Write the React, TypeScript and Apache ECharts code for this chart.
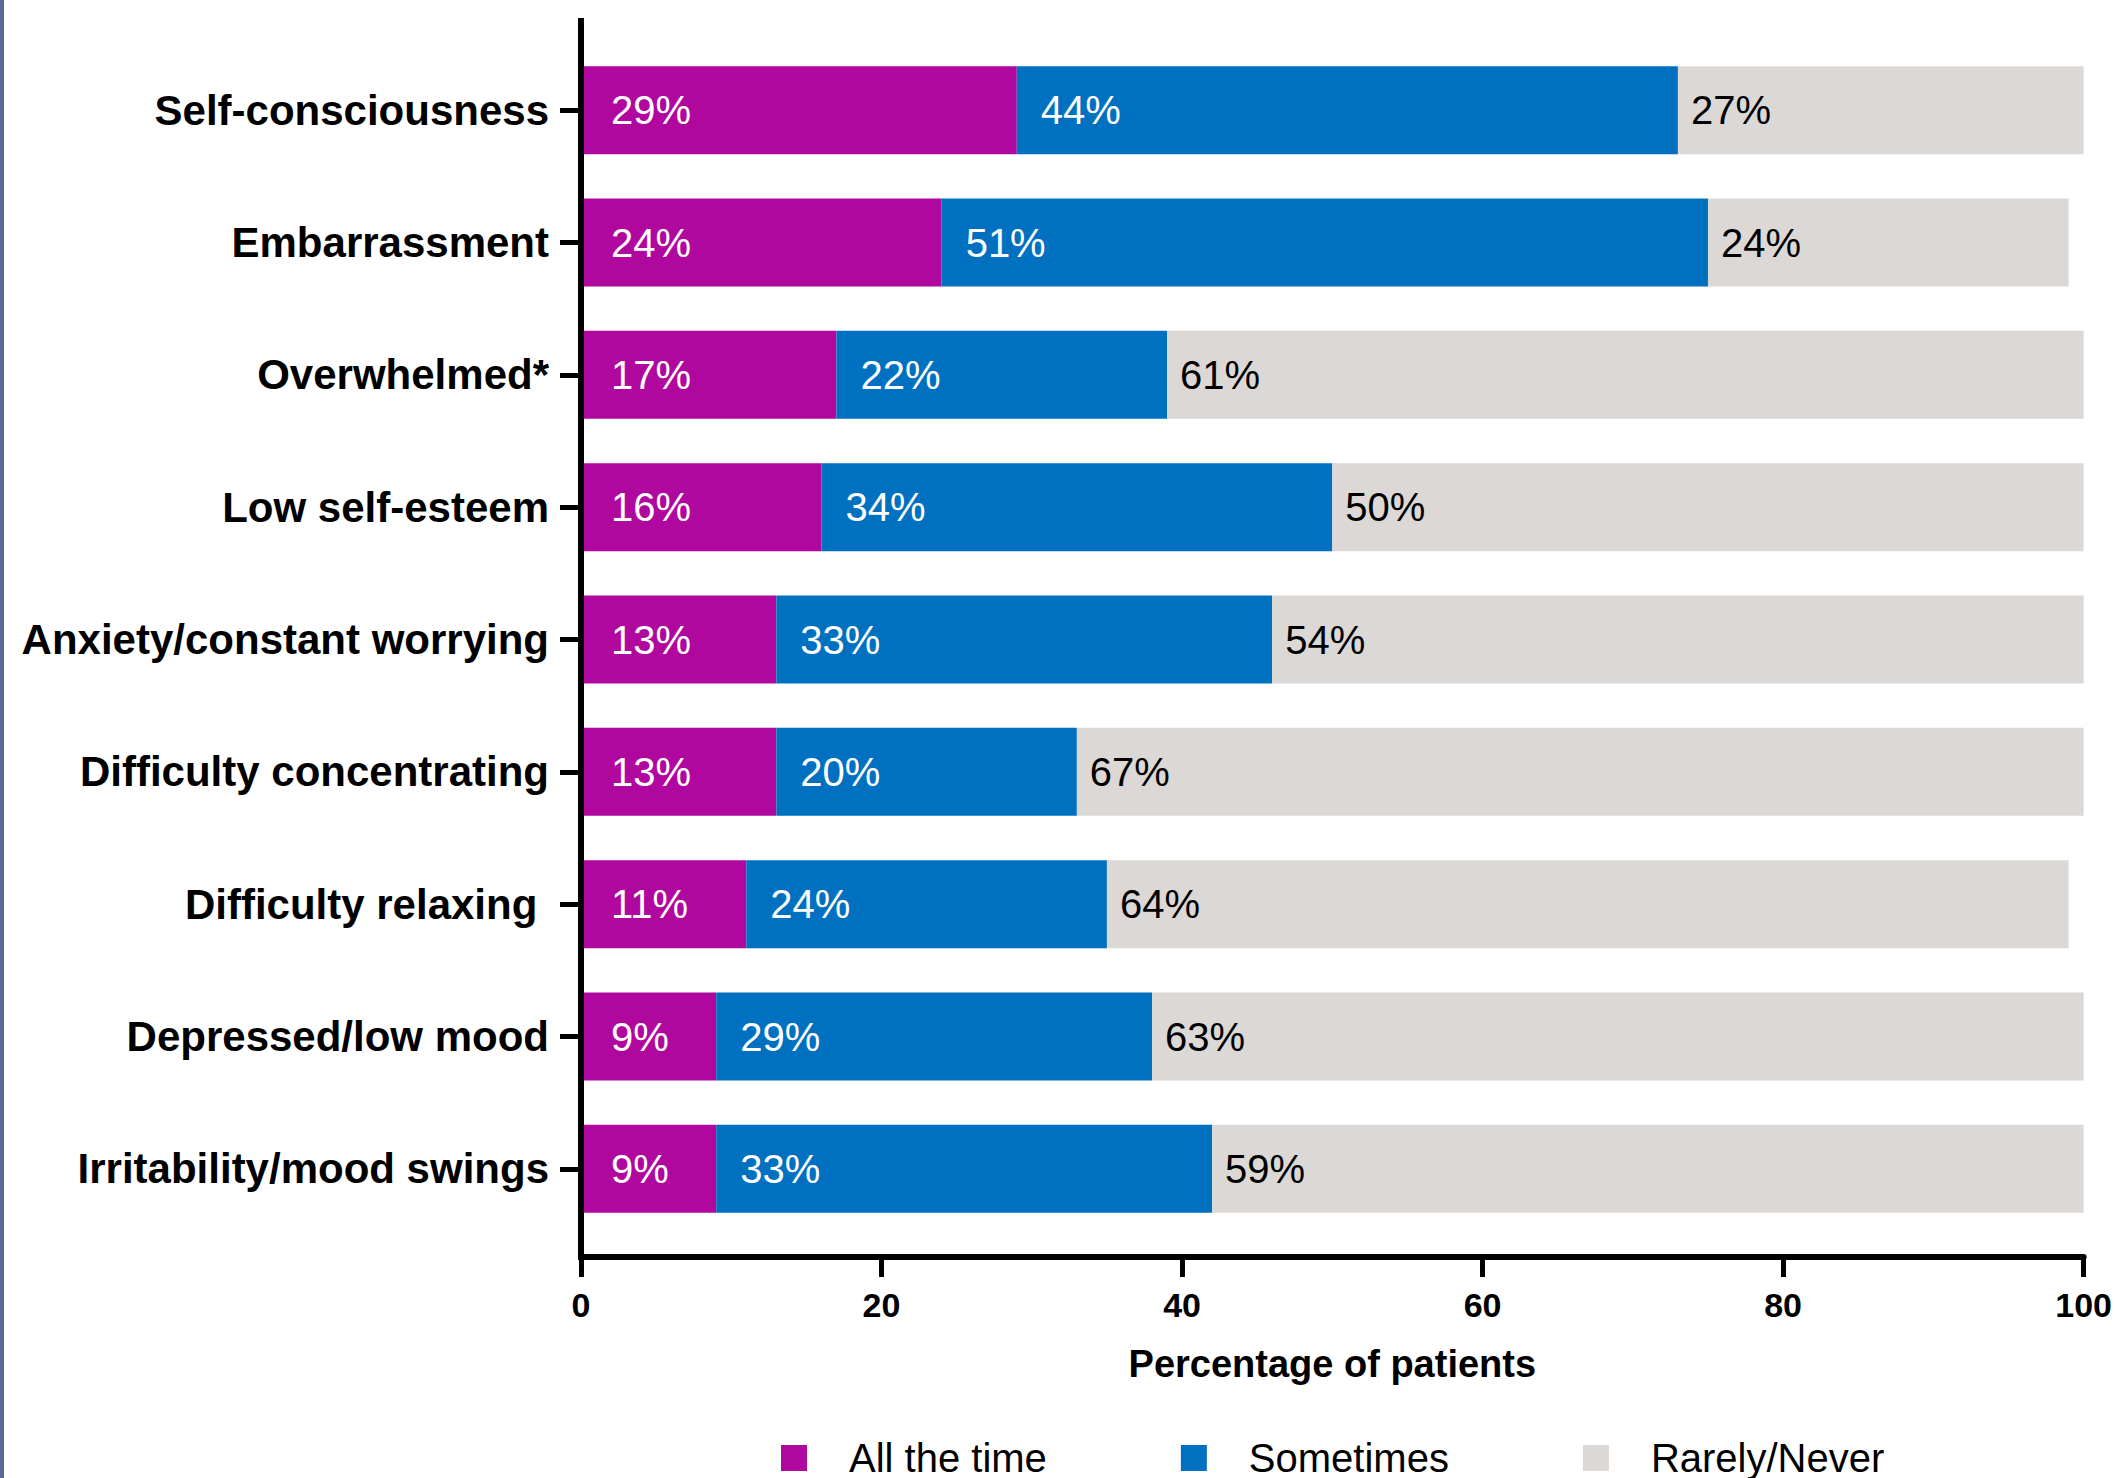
import React, { useEffect, useRef } from "react";
import * as echarts from "echarts";

const categories = [
  "Self-consciousness",
  "Embarrassment",
  "Overwhelmed*",
  "Low self-esteem",
  "Anxiety/constant worrying",
  "Difficulty concentrating",
  "Difficulty relaxing ",
  "Depressed/low mood",
  "Irritability/mood swings",
];
const allTheTime = [29, 24, 17, 16, 13, 13, 11, 9, 9];
const sometimes = [44, 51, 22, 34, 33, 20, 24, 29, 33];
const rarelyNever = [27, 24, 61, 50, 54, 67, 64, 63, 59];
const seriesNames = ["All the time", "Sometimes", "Rarely/Never"];
const xTicks = { min: 0, max: 100, interval: 20 };
const xTitle = "Percentage of patients";

const FONT = "'Liberation Sans', Arial, Helvetica, sans-serif";
const COLORS = ["#b0079f", "#0070c0", "#dbd8d5"];

export default function App() {
  const ref = useRef<HTMLDivElement>(null);
  useEffect(() => {
    document.body.style.margin = "0";
    const chart = echarts.init(ref.current!, null, { renderer: "svg" });
    const mkLabel = (color: string, off: number) => ({
      show: true,
      position: "insideLeft",
      offset: [off, 0],
      color,
      fontSize: 40,
      fontFamily: FONT,
      formatter: "{c}%",
    });
    chart.setOption({
      animation: false,
      backgroundColor: "#ffffff",
      grid: { left: 581, right: 29, top: 44, height: 1191, containLabel: false },
      legend: {
        data: seriesNames,
        left: 776,
        top: 1433,
        icon: "rect",
        itemWidth: 26,
        itemHeight: 26,
        itemGap: 134,
        selectedMode: false,
        textStyle: {
          fontSize: 40,
          fontFamily: FONT,
          color: "#000",
          padding: [0, 0, 0, 37],
        },
      },
      xAxis: {
        type: "value",
        min: xTicks.min,
        max: xTicks.max,
        interval: xTicks.interval,
        offset: 22,
        position: "bottom",
        name: xTitle,
        nameLocation: "middle",
        nameGap: 88,
        nameTextStyle: { fontSize: 38, fontWeight: "bold", fontFamily: FONT, color: "#000" },
        axisLine: { show: true, lineStyle: { color: "#000", width: 6 } },
        axisTick: { show: true, length: 20, lineStyle: { color: "#000", width: 5 } },
        axisLabel: { fontSize: 34, fontWeight: "bold", fontFamily: FONT, color: "#000", margin: 31 },
        splitLine: { show: false },
      },
      yAxis: {
        type: "category",
        inverse: true,
        data: categories,
        axisLine: { show: false },
        axisTick: { show: true, alignWithLabel: true, length: 21, lineStyle: { color: "#000", width: 5 } },
        axisLabel: { fontSize: 42, fontWeight: "bold", fontFamily: FONT, color: "#000", margin: 32 },
      },
      series: [
        {
          name: seriesNames[0],
          type: "bar",
          stack: "total",
          barWidth: 88,
          clip: true,
          itemStyle: { color: COLORS[0] },
          label: mkLabel("#ffffff", 25),
          data: allTheTime,
        },
        {
          name: seriesNames[1],
          type: "bar",
          stack: "total",
          barWidth: 88,
          clip: true,
          itemStyle: { color: COLORS[1] },
          label: mkLabel("#ffffff", 19),
          data: sometimes,
        },
        {
          name: seriesNames[2],
          type: "bar",
          stack: "total",
          barWidth: 88,
          clip: true,
          itemStyle: { color: COLORS[2] },
          label: mkLabel("#000000", 8),
          data: rarelyNever,
        },
      ],
      graphic: [
        { type: "rect", left: 0, top: 0, shape: { x: 0, y: 0, width: 4, height: 1478 }, style: { fill: "#5a6a93" } },
        {
          type: "line",
          shape: { x1: 581, y1: 18, x2: 581, y2: 1260 },
          style: { stroke: "#000", lineWidth: 6 },
          z: 10,
        },
      ],
    });
    return () => chart.dispose();
  }, []);
  return (
    <div
      ref={ref}
      style={{ position: "absolute", left: 0, top: 0, width: 2115, height: 1478 }}
    />
  );
}
